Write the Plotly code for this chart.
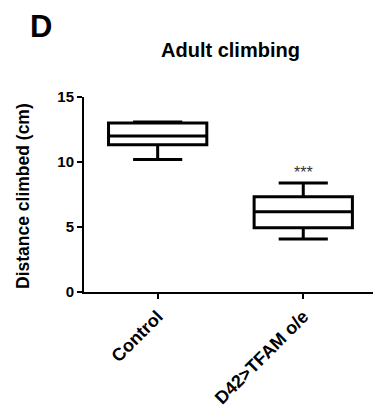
import plotly.graph_objects as go

categories = ["Control", "D42>TFAM o/e"]
lower_whisker = [10.2, 4.07]
q1 = [11.32, 4.94]
median = [12.0, 6.17]
q3 = [13.0, 7.33]
upper_whisker = [13.07, 8.39]
y_ticks = [0, 5, 10, 15]
sig_label = "***"
sig_y = 9.2

FONT = "Liberation Sans, Arial, sans-serif"

fig = go.Figure()
fig.add_trace(go.Box(
    x=categories,
    q1=q1, median=median, q3=q3,
    lowerfence=lower_whisker, upperfence=upper_whisker,
    width=0.675, whiskerwidth=0.5,
    line=dict(color="black", width=3),
    fillcolor="white",
    boxpoints=False,
    hoverinfo="skip",
    showlegend=False,
))

fig.add_annotation(x=categories[1], y=sig_y, xref="x", yref="y", text=sig_label,
                   showarrow=False, font=dict(family=FONT, size=16, color="#333"),
                   yanchor="middle")

L, R, T, B = 84, 1, 97, 120
W, H = 374, 412
pw, ph = W - L - R, H - T - B

def px(x):
    return (x - L) / pw

def py(y):
    return (H - B - y) / ph

fig.add_annotation(x=px(41), y=py(27), xref="paper", yref="paper", text="<b>D</b>",
                   showarrow=False, font=dict(family=FONT, size=31, color="black"),
                   xanchor="center", yanchor="middle")
fig.add_annotation(x=px(230), y=py(50), xref="paper", yref="paper", text="<b>Adult climbing</b>",
                   showarrow=False, font=dict(family=FONT, size=20, color="black"),
                   xanchor="center", yanchor="middle")
fig.add_annotation(x=px(23), y=py(196), xref="paper", yref="paper",
                   text="<b>Distance climbed (cm)</b>", textangle=-90,
                   showarrow=False, font=dict(family=FONT, size=17.5, color="black"),
                   xanchor="center", yanchor="middle")

fig.update_layout(
    width=W, height=H,
    margin=dict(l=L, r=R, t=T, b=B, autoexpand=False),
    paper_bgcolor="white", plot_bgcolor="white",
    font=dict(family=FONT, color="black"),
    xaxis=dict(
        type="category", range=[-0.506, 1.479], automargin=False,
        showline=True, linecolor="black", linewidth=2,
        ticks="outside", ticklen=5, tickwidth=2, tickcolor="black",
        tickangle=-45, showgrid=False, zeroline=False,
        tickfont=dict(family=FONT, size=18, color="black", weight="bold"),
    ),
    yaxis=dict(
        range=[0, 15], tickvals=y_ticks, automargin=False,
        showline=True, linecolor="black", linewidth=2,
        ticks="outside", ticklen=5, tickwidth=2, tickcolor="black",
        showgrid=False, zeroline=False,
        tickfont=dict(family=FONT, size=15, color="black", weight="bold"),
    ),
)

fig.write_html("out.html", config={"displayModeBar": False},
               post_script="document.body.style.margin='0px';")
